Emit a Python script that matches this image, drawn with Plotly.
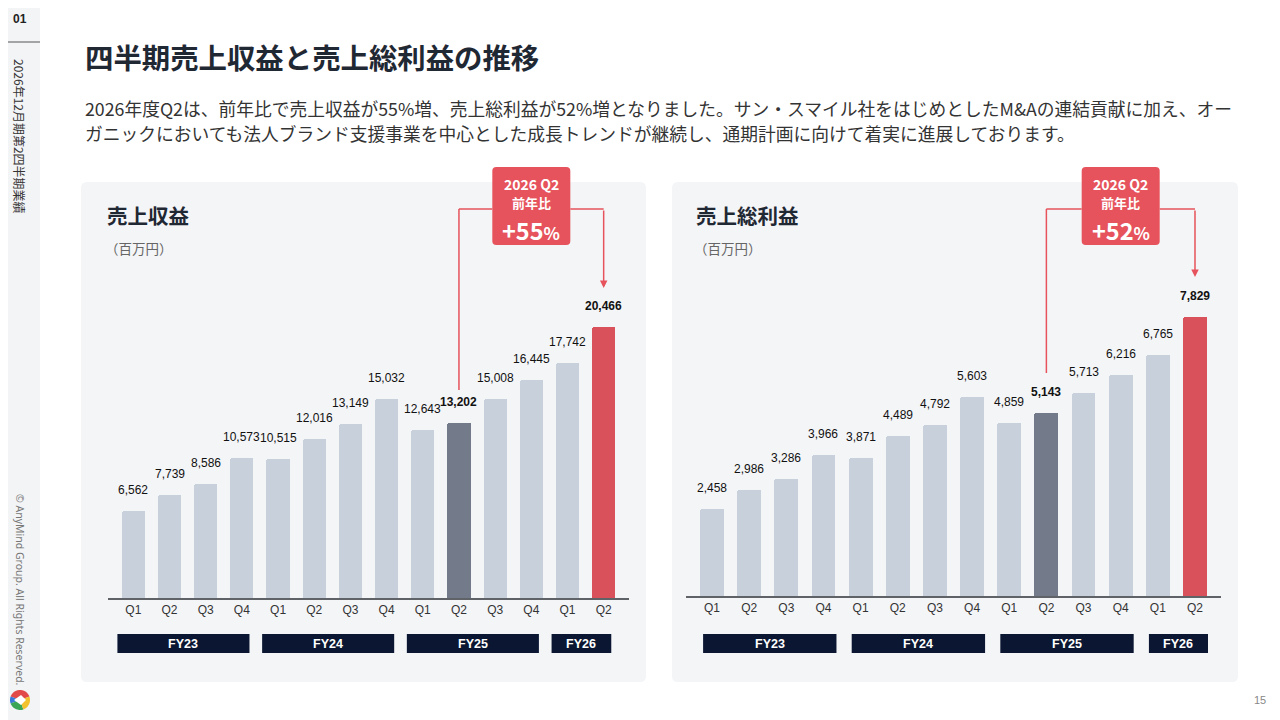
import numpy as np
import plotly.graph_objects as go

# ---- data ----
quarters = ["Q1", "Q2", "Q3", "Q4", "Q1", "Q2", "Q3", "Q4", "Q1", "Q2", "Q3", "Q4", "Q1", "Q2"]
fiscal_years = ["FY23", "FY24", "FY25", "FY26"]
fy_quarter_counts = [4, 4, 4, 2]
revenue = [6562, 7739, 8586, 10573, 10515, 12016, 13149, 15032, 12643, 13202, 15008, 16445, 17742, 20466]
gross_profit = [2458, 2986, 3286, 3966, 3871, 4489, 4792, 5603, 4859, 5143, 5713, 6216, 6765, 7829]
yoy_growth = [55, 52]
panel_titles = ["売上収益", "売上総利益"]
unit_label = "（百万円）"
prev_idx, now_idx = 9, 13

title = "四半期売上収益と売上総利益の推移"
body_lines = [
    "2026年度Q2は、前年比で売上収益が55%増、売上総利益が52%増となりました。サン・スマイル社をはじめとしたM&amp;Aの連結貢献に加え、オー",
    "ガニックにおいても法人ブランド支援事業を中心とした成長トレンドが継続し、通期計画に向けて着実に進展しております。",
]

W, H = 1280, 720
OFF = 8  # page body margin in the browser
JP = "Noto Sans CJK JP"
NUM = "Liberation Sans"
BAR, PREV, NOW = "#c8d1db", "#737b8a", "#d9515b"
NAVY, CALLOUT, PANEL = "#0b1732", "#e6535c", "#f4f5f7"


def px(x):
    return (x - OFF) / W


def py(y):
    return 1 - (y - OFF) / H


def rrect(x0, y0, x1, y1, rx, ry):
    return (f"M{x0 + rx},{y0} L{x1 - rx},{y0} Q{x1},{y0} {x1},{y0 + ry} "
            f"L{x1},{y1 - ry} Q{x1},{y1} {x1 - rx},{y1} L{x0 + rx},{y1} "
            f"Q{x0},{y1} {x0},{y1 - ry} L{x0},{y0 + ry} Q{x0},{y0} {x0 + rx},{y0} Z")


panels = [
    dict(values=revenue, xa="x", ya="y", xdom=(108, 629), base=598, scale=0.01325,
         box=(81, 182, 646, 682), tx=105, vbot=390, tip=288, fy_pad=(0.44, 0.21)),
    dict(values=gross_profit, xa="x2", ya="y2", xdom=(686, 1221), base=596, scale=0.0356,
         box=(672, 182, 1238, 682), tx=694, vbot=373, tip=277, fy_pad=(0.24, 0.35)),
]

idx = list(range(len(quarters)))
colors = [PREV if i == prev_idx else NOW if i == now_idx else BAR for i in idx]

fig = go.Figure()
shapes, annotations = [], []

# sidebar
shapes.append(dict(type="rect", xref="paper", yref="paper", x0=0, x1=px(40), y0=py(740), y1=1,
                   fillcolor="#f3f4f6", line_width=0, layer="below"))
shapes.append(dict(type="line", xref="paper", yref="paper", x0=0, x1=px(40), y0=py(42), y1=py(42),
                   line=dict(color="#555", width=1)))
annotations += [
    dict(text="01", x=px(20), y=py(19), font=dict(family=NUM, size=12, color="#222", weight=700)),
    dict(text="2026年12月期第2四半期業績", x=px(20), y=py(136), textangle=90,
         font=dict(family=JP, size=12, color="#333")),
    dict(text="© AnyMind Group. All Rights Reserved.", x=px(20), y=py(590), textangle=90,
         font=dict(family="Noto Sans", size=10.5, color="#777")),
    dict(text="15", x=px(1260), y=py(700), font=dict(family=NUM, size=11, color="#888")),
    dict(text=title, x=px(83), y=py(57), xanchor="left",
         font=dict(family=JP, size=28.4, color="#1f2833", weight=700)),
]
for k, line in enumerate(body_lines):
    annotations.append(dict(text=line, x=px(83), y=py(108 + 25 * k), xanchor="left",
                            font=dict(family=JP, size=17.75, color="#333")))

# logo: four coloured arcs with a white notch
cx, cy, r = 20, 700, 10
for a0, a1, col in [(20, 160, "#e24a4a"), (160, 200, "#3a78d8"), (200, 290, "#3aa655"), (290, 380, "#f2c12e")]:
    t = np.radians(np.linspace(a0, a1, 16))
    pts = [(cx, cy)] + [(cx + r * np.cos(a), cy - r * np.sin(a)) for a in t]
    path = "M" + " L".join(f"{px(x)},{py(y)}" for x, y in pts) + " Z"
    shapes.append(dict(type="path", xref="paper", yref="paper", path=path, fillcolor=col, line_width=0))
notch = [(cx - 6, cy), (cx + 1, cy - 5), (cx + 6, cy), (cx + 1, cy + 5)]
shapes.append(dict(type="path", xref="paper", yref="paper",
                   path="M" + " L".join(f"{px(x)},{py(y)}" for x, y in notch) + " Z",
                   fillcolor="white", line_width=0))

layout_axes = {}
for n, p in enumerate(panels):
    sfx = "" if n == 0 else "2"
    vals = p["values"]
    x0, y0, x1, y1 = p["box"]
    shapes.append(dict(type="path", xref="paper", yref="paper", layer="below",
                       path=rrect(px(x0), py(y1), px(x1), py(y0), 6 / W, 6 / H),
                       fillcolor=PANEL, line_width=0))
    annotations.append(dict(text=panel_titles[n], x=px(p["tx"]), y=py(215), xanchor="left",
                            font=dict(family=JP, size=20.5, color="#1f2833", weight=700)))
    annotations.append(dict(text=unit_label, x=px(p["tx"] - 2), y=py(248), xanchor="left",
                            font=dict(family=JP, size=13.5, color="#666")))

    fig.add_trace(go.Bar(x=idx, y=vals, width=0.64, xaxis=p["xa"], yaxis=p["ya"],
                         marker=dict(color=colors, line_width=0, cornerradius=2),
                         hoverinfo="skip", showlegend=False))

    top_px = 300
    layout_axes["xaxis" + sfx] = dict(
        domain=[px(p["xdom"][0]), px(p["xdom"][1])], range=[-0.7, 13.7], anchor="y" + sfx,
        tickvals=idx, ticktext=quarters, ticks="", showgrid=False, zeroline=False,
        showline=True, linecolor="#5f6368", linewidth=2, fixedrange=True,
        tickfont=dict(family=NUM, size=12, color="#333"))
    layout_axes["yaxis" + sfx] = dict(
        domain=[py(p["base"]), py(top_px)], range=[0, (p["base"] - top_px) / p["scale"]],
        anchor="x" + sfx, visible=False, fixedrange=True)

    # value labels
    for i, v in zip(idx, vals):
        bold = i in (prev_idx, now_idx)
        annotations.append(dict(text=f"{v:,}", x=i, y=v, xref=p["xa"], yref=p["ya"],
                                yanchor="bottom", yshift=12, showarrow=False,
                                font=dict(family=NUM, size=12, color="#111",
                                          weight=700 if bold else 400)))

    # fiscal-year boxes
    start = 0
    for fy, cnt in zip(fiscal_years, fy_quarter_counts):
        end = start + cnt - 1
        shapes.append(dict(type="rect", xref=p["xa"], yref="paper",
                           x0=start - p["fy_pad"][0], x1=end + p["fy_pad"][1],
                           y0=py(653), y1=py(634), fillcolor=NAVY, line_width=0))
        annotations.append(dict(text=fy, x=(start - p["fy_pad"][0] + end + p["fy_pad"][1]) / 2,
                                y=py(643.5), xref=p["xa"], yref="paper", showarrow=False,
                                font=dict(family=NUM, size=12.5, color="white", weight=700)))
        start += cnt

    # callout
    spacing = (p["xdom"][1] - p["xdom"][0]) / 14.4
    bc, hw = 11, 39 / spacing
    shapes.append(dict(type="path", xref=p["xa"], yref="paper",
                       path=rrect(bc - hw, py(245), bc + hw, py(167), 4 / spacing, 4 / H),
                       fillcolor=CALLOUT, line_width=0))
    red_line = dict(color=CALLOUT, width=1.5)
    shapes.append(dict(type="line", xref=p["xa"], yref="paper", x0=prev_idx, x1=prev_idx,
                       y0=py(p["vbot"]), y1=py(209), line=red_line))
    shapes.append(dict(type="line", xref=p["xa"], yref="paper", x0=prev_idx, x1=bc - hw,
                       y0=py(209), y1=py(209), line=red_line))
    shapes.append(dict(type="line", xref=p["xa"], yref="paper", x0=bc + hw, x1=now_idx,
                       y0=py(209), y1=py(209), line=red_line))
    annotations.append(dict(text="", x=now_idx, y=py(p["tip"]), xref=p["xa"], yref="paper",
                            showarrow=True, ax=0, ay=-(p["tip"] - 209), arrowhead=2,
                            arrowsize=1, arrowwidth=1.5, arrowcolor=CALLOUT, standoff=0))
    annotations += [
        dict(text="2026 Q2", x=bc, y=py(183.5), xref=p["xa"], yref="paper", showarrow=False,
             font=dict(family=JP, size=14, color="white", weight=700), borderpad=0),
        dict(text="前年比", x=bc, y=py(203), xref=p["xa"], yref="paper", showarrow=False,
             font=dict(family=JP, size=13, color="white", weight=700), borderpad=0),
        dict(text=f"+{yoy_growth[n]}<span style='font-size:17px'>%</span>", x=bc, y=py(229.5),
             xref=p["xa"], yref="paper", showarrow=False,
             font=dict(family=JP, size=23.5, color="white", weight=700), borderpad=0),
    ]

for a in annotations:
    a.setdefault("xref", "paper")
    a.setdefault("yref", "paper")
    a.setdefault("showarrow", False)
    a.setdefault("xanchor", "center")
    a.setdefault("yanchor", "middle")

fig.update_layout(
    width=W, height=H, margin=dict(l=0, r=0, t=0, b=0),
    paper_bgcolor="white", plot_bgcolor="rgba(0,0,0,0)",
    bargap=0, shapes=shapes, annotations=annotations, showlegend=False,
    **layout_axes,
)

fig.write_html("out.html", config=dict(displayModeBar=False))
